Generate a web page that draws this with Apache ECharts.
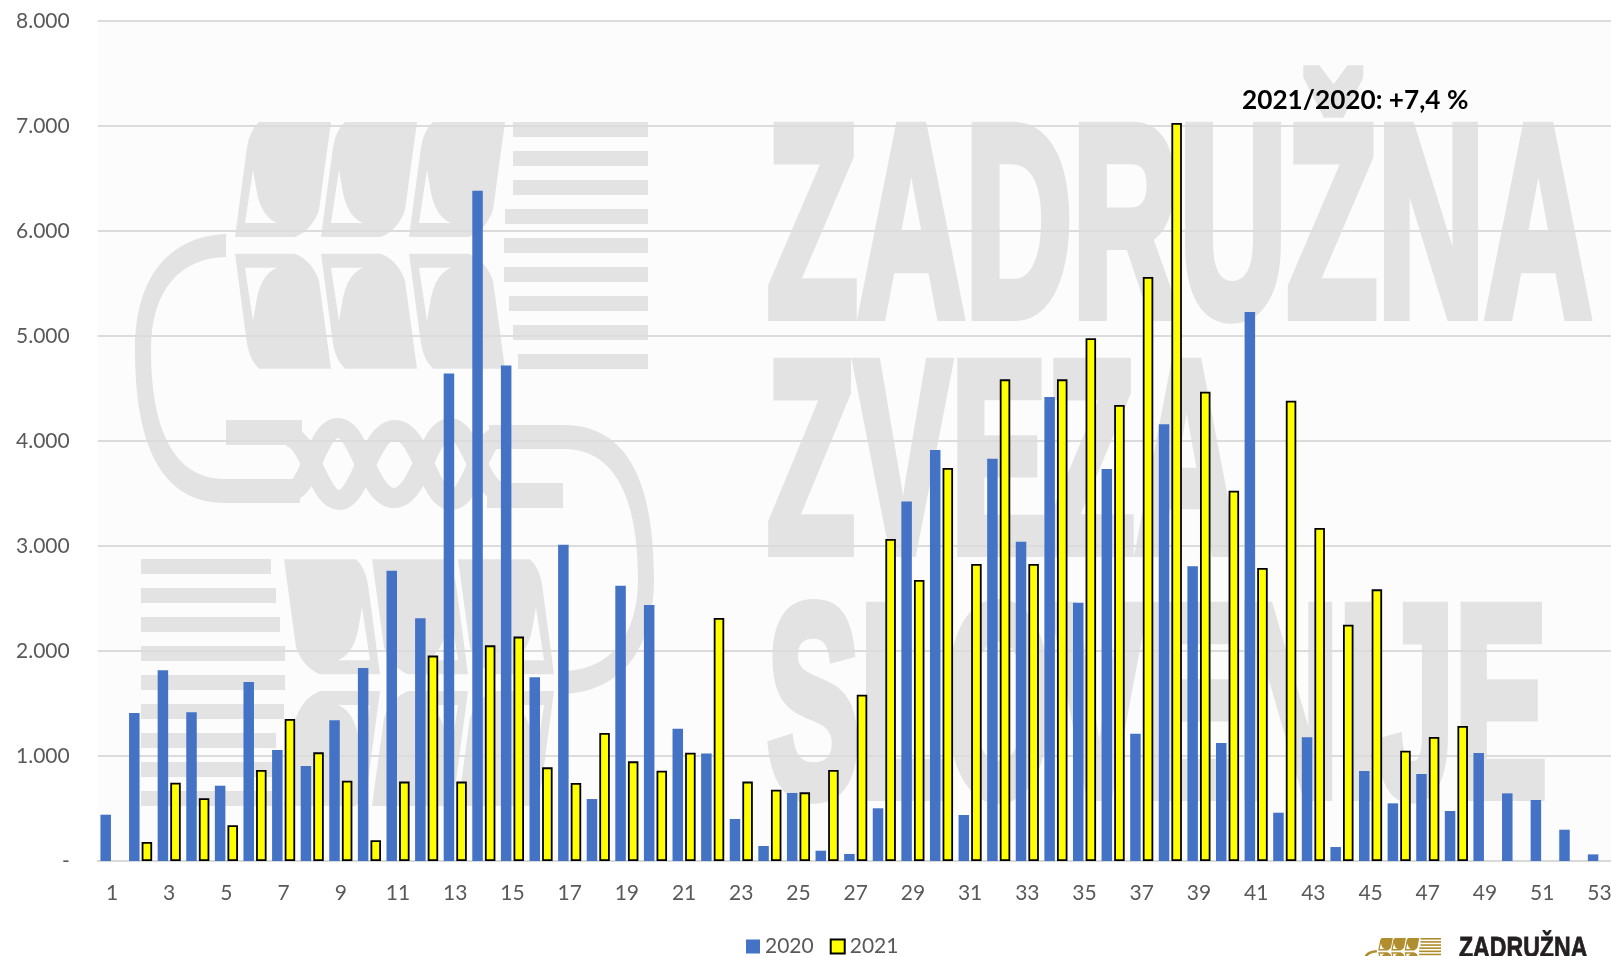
<!DOCTYPE html>
<html>
<head>
<meta charset="utf-8">
<title>2021/2020</title>
<script src="https://cdn.jsdelivr.net/npm/echarts@6/dist/echarts.min.js"></script>
<style>
  html, body { margin: 0; padding: 0; background: #fff; overflow: hidden; }
  #chart { width: 1611px; height: 956px; }
</style>
</head>
<body>
<div id="chart"></div>
<script>
const weeks = ['1','2','3','4','5','6','7','8','9','10','11','12','13','14','15','16','17','18','19','20','21','22','23','24','25','26','27','28','29','30','31','32','33','34','35','36','37','38','39','40','41','42','43','44','45','46','47','48','49','50','51','52','53']
const values2020 = [441, 1410, 1816, 1416, 717, 1705, 1057, 905, 1340, 1838, 2765, 2311, 4644, 6384, 4720, 1749, 3013, 590, 2622, 2438, 1260, 1025, 400, 143, 648, 98, 67, 502, 3425, 3914, 438, 3830, 3041, 4418, 2460, 3733, 1213, 4159, 2806, 1124, 5229, 460, 1178, 133, 857, 549, 829, 476, 1029, 644, 581, 298, 63]
const values2021 = [null, 181, 746, 597, 340, 867, 1352, 1035, 765, 197, 756, 1956, 756, 2054, 2137, 892, 743, 1219, 949, 860, 1032, 2314, 756, 679, 654, 867, 1584, 3067, 2676, 3743, 2829, 4587, 2829, 4587, 4978, 4343, 5562, 7029, 4470, 3527, 2790, 4384, 3171, 2251, 2587, 1051, 1181, 1286, null, null, null, null, null]
const stripeLeft = [513, 513, 513, 505, 504, 504, 509, 513, 518]

const textColor = '#595959'
const wmColor = '#e3e3e3'
const labelFont = 'Lato, sans-serif'

// the logo outlines, registered so graphic elements can use them by name
echarts.graphic.registerShape('logoGrain', echarts.graphic.extendPath('M259 122 L331 122 L319 210 Q312 230 295 237 L235 237 L247 147 Q250 130 259 122 Z M245 223 L277 223 Q262 217 257 193 L253 170 Z', {}))
echarts.graphic.registerShape('logoRing', echarts.graphic.extendPath('M226 234 C175 236 135 270 135 350 C135 460 170 503 225 503 L300 503 L300 479 L225 479 C180 479 151 440 151 350 C151 290 180 258 226 257 Z', {}))
echarts.graphic.registerShape('logoWave', echarts.graphic.extendPath('M290 491 C310 491 316 428 338 428 C360 428 368 498 394 498 C420 498 428 428 450 428 C472 428 480 498 505 491', {}))

// one half of the logo, the other half is the same thing turned by 180 degrees
function logoHalf(color) {
  const items = []
  ;[0, 86, 174].forEach(dx => {
    items.push({ type: 'logoGrain', x: dx, shape: {}, style: { fill: color } })
    items.push({ type: 'logoGrain', x: dx, y: 490.67, scaleY: -1, shape: {}, style: { fill: color } })
  })
  stripeLeft.forEach((left, i) => {
    items.push({ type: 'rect', shape: { x: left, y: 122 + i * 29, width: 648 - left, height: 15 }, style: { fill: color } })
  })
  items.push({ type: 'logoRing', shape: {}, style: { fill: color } })
  items.push({ type: 'rect', shape: { x: 226, y: 420, width: 76, height: 25 }, style: { fill: color } })
  items.push({ type: 'logoWave', shape: {}, style: { fill: 'none', stroke: color, lineWidth: 20 } })
  return items
}

function logo(color) {
  return [
    { type: 'group', children: logoHalf(color) },
    { type: 'group', originX: 394.5, originY: 464, rotation: Math.PI, children: logoHalf(color) }
  ]
}

function wmText(text, x, y, sx) {
  return {
    type: 'text', x: x, y: y, scaleX: sx,
    style: { text: text, fill: wmColor, stroke: wmColor, lineWidth: 12, font: 'bold 272px "Liberation Sans"', align: 'left', verticalAlign: 'top' }
  }
}

const chart = echarts.init(document.getElementById('chart'))

chart.setOption({
  animation: false,
  backgroundColor: '#ffffff',
  // the plot runs slightly past the right edge, as in the reference
  grid: { left: 97.7, top: 21, width: 1516, height: 840, containLabel: false, outerBoundsMode: 'none' },
  legend: {
    left: 741, top: 931, itemWidth: 14, itemHeight: 14, itemGap: 16,
    icon: 'rect',
    textStyle: { color: textColor, fontSize: 21, fontFamily: labelFont },
    data: ['2020', '2021']
  },
  xAxis: {
    type: 'category',
    data: weeks,
    axisTick: { show: false },
    axisLine: { lineStyle: { color: '#d9d9d9', width: 2 } },
    axisLabel: { interval: 1, color: textColor, fontSize: 21, fontFamily: labelFont, margin: 22 }
  },
  yAxis: {
    type: 'value', min: 0, max: 8000, interval: 1000,
    axisLine: { show: false },
    axisTick: { show: false },
    splitLine: { lineStyle: { color: '#dcdcdc', width: 2 } },
    axisLabel: {
      color: textColor, fontSize: 21, fontFamily: labelFont, margin: 28,
      formatter: v => v === 0 ? '-' : (v / 1000).toFixed(3)
    }
  },
  series: [
    {
      name: '2020', type: 'bar', data: values2020,
      barWidth: 10.5, barGap: '20%',
      itemStyle: { color: '#4472c4' }
    },
    {
      name: '2021', type: 'bar', data: values2021,
      barWidth: 10.5, barGap: '20%',
      itemStyle: { color: '#ffff00', borderColor: '#000000', borderWidth: 1.8 }
    }
  ],
  graphic: {
    z: -5,
    elements: [
      { type: 'rect', shape: { x: 98, y: 22, width: 1513, height: 839 }, style: { fill: '#fcfcfc' } },
      { type: 'group', children: logo(wmColor) },
      wmText('ZADRUŽNA', 767, 104, 0.546),
      wmText('ZVEZA', 767, 340, 0.529),
      wmText('SLOVENIJE', 767, 584, 0.511),
      { type: 'text', z: 20, x: 1242, y: 100, scaleX: 0.97, style: { text: '2021/2020: +7,4 %', fill: '#000000', font: 'bold 27px Lato, sans-serif', align: 'left', verticalAlign: 'middle' } },
      { type: 'group', z: 20, x: 1342.5, y: 924.8, scaleX: 0.152, scaleY: 0.108, children: logo('#b08d2e') },
      { type: 'text', z: 20, x: 1459, y: 934, scaleX: 0.77, style: { text: 'ZADRUŽNA', fill: '#231f20', stroke: '#231f20', lineWidth: 0.8, font: 'bold 30px "Liberation Sans"', align: 'left', verticalAlign: 'top' } }
    ]
  }
})
</script>
</body>
</html>
